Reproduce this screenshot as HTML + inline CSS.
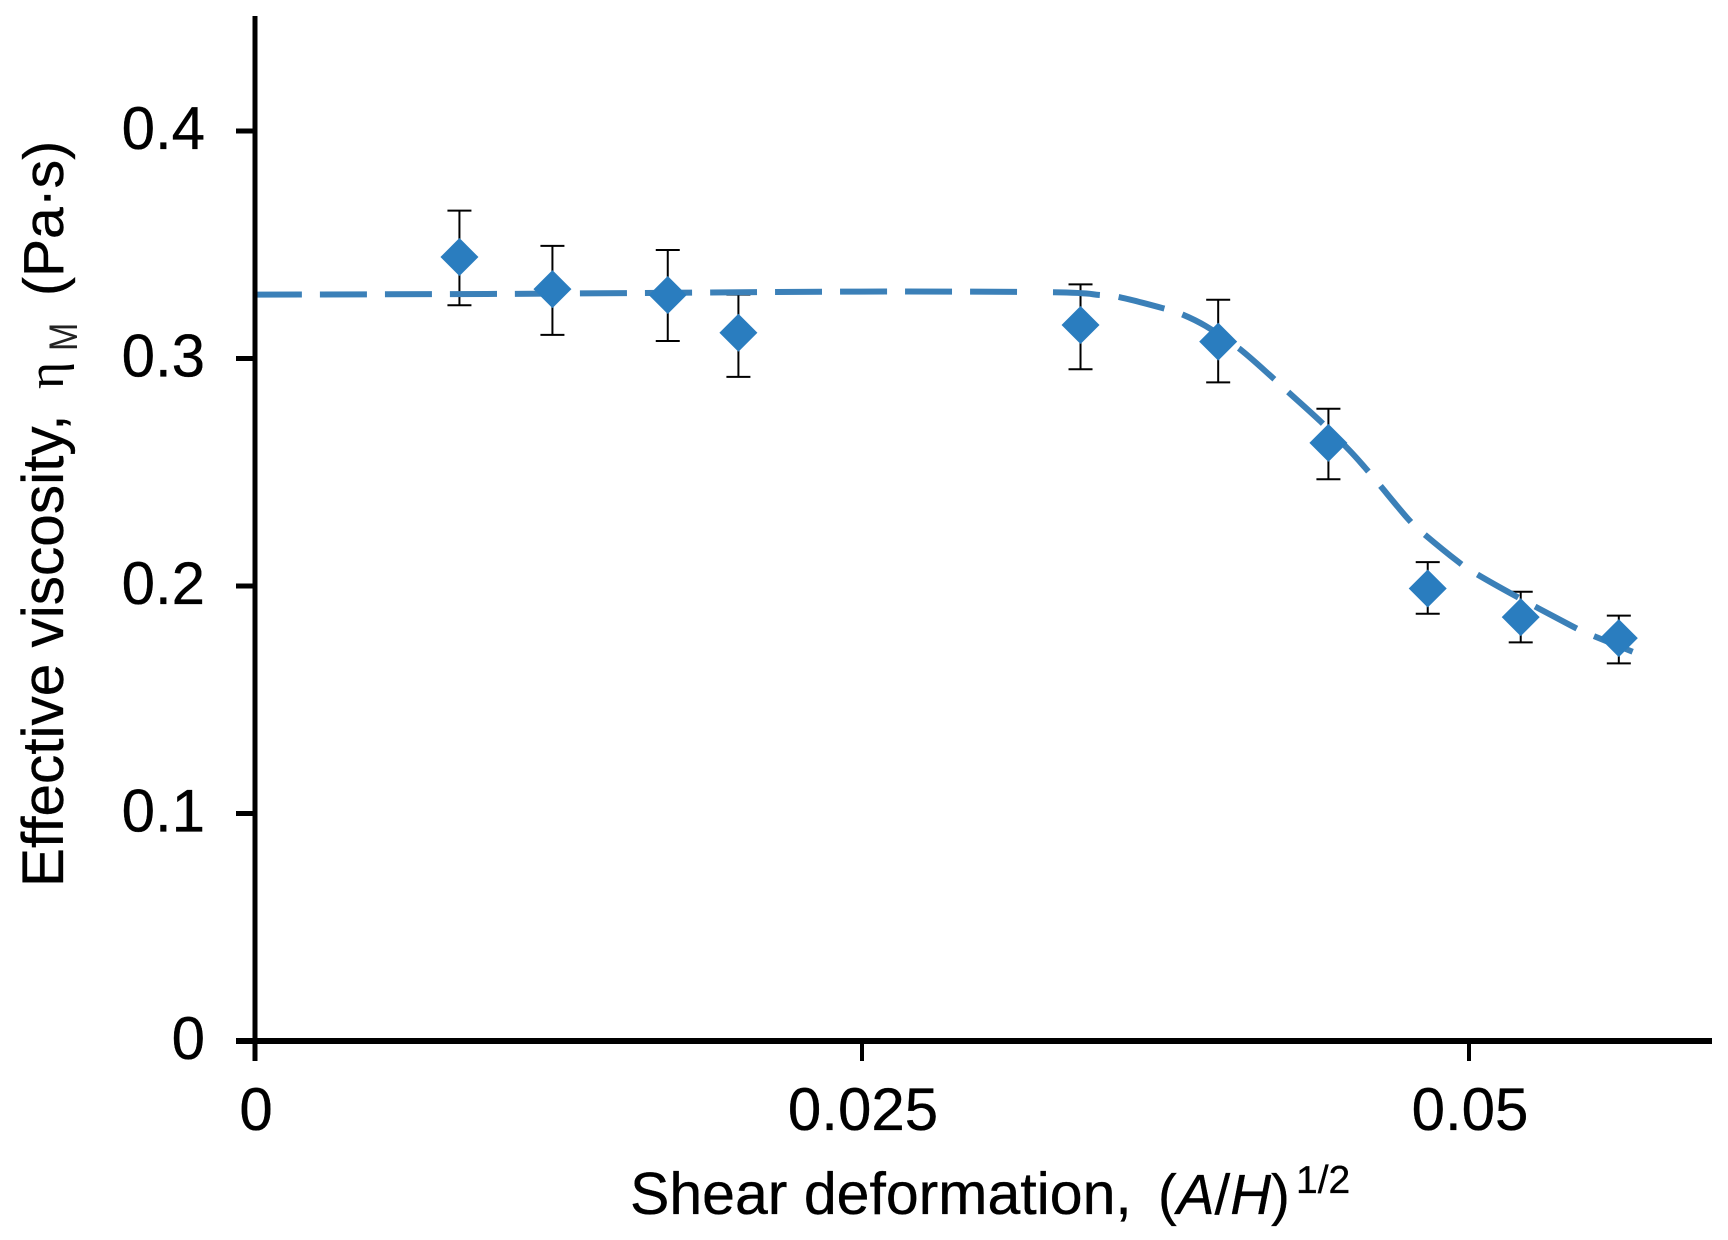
<!DOCTYPE html>
<html lang="en">
<head>
<meta charset="utf-8">
<title>Effective viscosity vs shear deformation</title>
<style>
html,body{margin:0;padding:0;background:#fff;}
svg{display:block;}
text{font-family:"Liberation Sans",Arial,sans-serif;fill:#000;stroke:#000;stroke-width:0.35px;}
</style>
</head>
<body>
<svg id="chart" xmlns="http://www.w3.org/2000/svg" width="1728" height="1240" viewBox="0 0 1728 1240">
  <rect x="0" y="0" width="1728" height="1240" fill="#fff"/>
  <g id="series"></g>
  <g id="axes"></g>
  <g>
    <text x="630" y="1214" font-size="59">Shear deformation,</text>
    <text x="1158" y="1214" font-size="56.5">(<tspan font-style="italic">A</tspan>/<tspan font-style="italic">H</tspan>)</text>
    <text x="1296" y="1193" font-size="39">1/2</text>
  </g>
  <g>
    <text transform="translate(63 887) rotate(-90)" font-size="58.5">Effective viscosity,</text>
    <text transform="translate(63 389) rotate(-90)" font-size="52" style="font-family:'Liberation Serif',serif;stroke-width:0">η</text>
    <text transform="translate(77 351) rotate(-90) scale(0.85 1)" font-size="40" style="fill:#222;stroke-width:0">M</text>
    <text transform="translate(63 296) rotate(-90)" font-size="57">(Pa·s)</text>
  </g>
</svg>
<script>
const xTicks = [0, 0.025, 0.05];
const xTickLabels = ["0", "0.025", "0.05"];
const yTicks = [0, 0.1, 0.2, 0.3, 0.4];
const yTickLabels = ["0", "0.1", "0.2", "0.3", "0.4"];

const pointX = [0.00842, 0.01225, 0.01700, 0.01991, 0.03400, 0.03967, 0.04421, 0.04830, 0.05213, 0.05617];
const pointY = [0.3446, 0.3305, 0.3279, 0.3113, 0.3147, 0.3074, 0.2629, 0.1989, 0.1863, 0.1771];
const errorTop = [0.3650, 0.3495, 0.3477, 0.3281, 0.3326, 0.3258, 0.2779, 0.2105, 0.1975, 0.1870];
const errorBottom = [0.3234, 0.3104, 0.3077, 0.2919, 0.2953, 0.2895, 0.2469, 0.1878, 0.1752, 0.1660];

const curveX = [0, 0.0101, 0.0249, 0.03287, 0.0348, 0.03563, 0.0374, 0.03814, 0.03915, 0.04052, 0.04193, 0.04254, 0.0439, 0.04506, 0.04572, 0.04629, 0.04749, 0.0481, 0.04955, 0.05023, 0.05185, 0.05424, 0.05503, 0.05674];
const curveY = [0.3281, 0.3284, 0.3294, 0.3291, 0.3279, 0.3269, 0.3221, 0.3196, 0.3143, 0.3045, 0.2914, 0.2854, 0.2722, 0.2598, 0.2520, 0.2448, 0.2295, 0.2233, 0.2107, 0.2058, 0.1960, 0.1824, 0.1785, 0.1711];

const NS = "http://www.w3.org/2000/svg";
const x0 = 255, xPerUnit = 24280;
const y0 = 1041, yPerUnit = 2275;
function sx(v) { return x0 + v * xPerUnit; }
function sy(v) { return y0 - v * yPerUnit; }

function make(tag, attrs, parent) {
  const el = document.createElementNS(NS, tag);
  for (const k in attrs) el.setAttribute(k, attrs[k]);
  parent.appendChild(el);
  return el;
}

const axes = document.getElementById("axes");
const series = document.getElementById("series");

/* axis lines */
const yAxisLine = make("line", {x1: x0, x2: x0, y1: 16, y2: 1061, stroke: "#000", "stroke-width": 5}, axes);


const xAxisLine = make("line", {x1: 236, x2: 1712, y1: y0, y2: y0, stroke: "#000", "stroke-width": 6}, axes);



/* x ticks and labels */
xTicks.forEach(function (t, i) {
  const tick = make("line", {x1: sx(t), x2: sx(t), y1: y0, y2: 1061, stroke: "#000", "stroke-width": 4}, axes);
  
  
  const label = make("text", {x: sx(t) + 1, y: 1130, "font-size": 60, "text-anchor": "middle"}, axes);
  
  
  label.textContent = xTickLabels[i];
});

/* y ticks and labels */
yTicks.forEach(function (t, i) {
  const tick = make("line", {x1: 236, x2: x0, y1: sy(t), y2: sy(t), stroke: "#000", "stroke-width": 5}, axes);
  
  
  const label = make("text", {x: 205, y: sy(t) + 18, "font-size": 60, "text-anchor": "end"}, axes);
  
  
  label.textContent = yTickLabels[i];
});

/* fitted dashed curve, smoothed through the read-off values */
function curvePath() {
  const pts = curveX.map(function (v, i) { return [sx(v), sy(curveY[i])]; });
  let d = "M" + pts[0][0] + " " + pts[0][1];
  for (let i = 0; i < pts.length - 1; i++) {
    const p0 = pts[Math.max(i - 1, 0)], p1 = pts[i], p2 = pts[i + 1], p3 = pts[Math.min(i + 2, pts.length - 1)];
    const c1x = p1[0] + (p2[0] - p0[0]) / 6, c1y = p1[1] + (p2[1] - p0[1]) / 6;
    const c2x = p2[0] - (p3[0] - p1[0]) / 6, c2y = p2[1] - (p3[1] - p1[1]) / 6;
    d += " C" + c1x + " " + c1y + " " + c2x + " " + c2y + " " + p2[0] + " " + p2[1];
  }
  return d;
}
const errorLayer = make("g", {}, series);


const dashes = "47 18 ".repeat(11) + "47 36 " + "47 19 ".repeat(14);
const fitCurve = make("path", {d: curvePath(), fill: "none", stroke: "#3b80b8", "stroke-width": 6, "stroke-dasharray": dashes}, series);



/* error bars and diamond markers */
pointX.forEach(function (v, i) {
  const cx = sx(v), cy = sy(pointY[i]), top = sy(errorTop[i]), bot = sy(errorBottom[i]);
  const stem = make("line", {x1: cx, x2: cx, y1: top, y2: bot, stroke: "#000", "stroke-width": 2}, errorLayer);
  
  
  const capTop = make("line", {x1: cx - 12, x2: cx + 12, y1: top, y2: top, stroke: "#000", "stroke-width": 2}, errorLayer);
  
  
  const capBottom = make("line", {x1: cx - 12, x2: cx + 12, y1: bot, y2: bot, stroke: "#000", "stroke-width": 2}, errorLayer);
  
  
  const r = 19;
  const diamond = make("polygon", {points: [cx, cy - r, cx + r, cy, cx, cy + r, cx - r, cy].join(" "), fill: "#2a7dbf"}, series);
  
  
});
</script>
</body>
</html>
